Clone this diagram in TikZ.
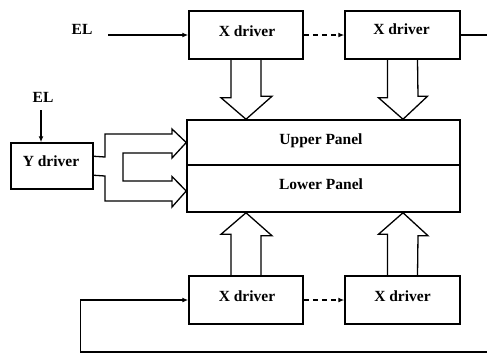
\documentclass[tikz,border=0pt]{standalone}
\usepackage{fontspec}
\setmainfont{Liberation Serif}
\usetikzlibrary{arrows.meta,calc}
\begin{document}
\begin{tikzpicture}[x=1pt,y=-1pt,
  box/.style={draw,line width=1.5pt,inner sep=0pt},
  lbl/.style={inner sep=0pt,anchor=base,font=\fontsize{15.5}{18}\selectfont\bfseries},
  wire/.style={line width=1.3pt},
  tip/.style={wire,-{Latex[length=6pt,width=5pt]}},
  dtip/.style={tip,dash pattern=on 5pt off 4pt},
  hollow/.style={line width=1.3pt,line join=miter}]
\useasboundingbox (0,0) rectangle (487,354);
% boxes
\node[box,minimum width=114pt,minimum height=48pt] (x1) at (246,35) {};
\node[box,minimum width=115pt,minimum height=48pt] (x2) at (402.5,35) {};
\node[box,minimum width=114pt,minimum height=48pt] (x3) at (246,300) {};
\node[box,minimum width=115pt,minimum height=48pt] (x4) at (402.5,300) {};
\node[box,minimum width=273pt,minimum height=45pt] (up) at (323.5,142.5) {};
\node[box,minimum width=273pt,minimum height=47pt] (lo) at (323.5,188.5) {};
\node[box,minimum width=82pt,minimum height=46pt] (yd) at (52,166) {};
% labels
\node[lbl] (tx1) at (247,36) {X driver};
\node[lbl] (tx2) at (401.5,34) {X driver};
\node[lbl] (tx3) at (247,301.5) {X driver};
\node[lbl] (tx4) at (402.5,301.5) {X driver};
\node[lbl] (tup) at (321,144.7) {Upper Panel};
\node[lbl] (tlo) at (321,189) {Lower Panel};
\node[lbl] (ty) at (51,166.7) {Y driver};
\node[lbl] (el1) at (82,34.3) {EL};
\node[lbl] (el2) at (43,102.3) {EL};
% free ends
\coordinate (elin) at (108,35);
\coordinate (elin2) at (41,110);
\coordinate (outR) at (487,35);
\coordinate (fbR) at (487,352);
% EL inputs and chain
\draw[tip] (elin) -- (x1.west);
\draw[tip] (elin2) -- (elin2 |- yd.north);
\draw[dtip] (x1.east) -- (x2.west);
\draw[wire] (x2.east) -- (outR);
\draw[dtip] (x3.east) -- (x4.west);
\draw[tip] (fbR) -- (80.7,352) -- (80.7,300) -- (x3.west);
% hollow arrows from top X drivers
\draw[hollow] ([xshift=-15pt]x1.south) -- ++(0,38) -- ++(-10,0) -- (x1.south |- up.north)
  -- ++(26,-23) -- ++(-11,0) -- ([xshift=15pt]x1.south);
\draw[hollow] ([xshift=-15pt]x2.south) -- ++(0,38) -- ++(-9,0) -- ([xshift=0.5pt]x2.south |- up.north)
  -- ++(24.5,-23) -- ++(-9.5,0) -- ([xshift=15pt]x2.south);
% hollow arrows from bottom X drivers
\draw[hollow] ([xshift=-15pt]x3.north) -- ++(0,-41) -- ++(-10,0) -- (x3.north |- lo.south)
  -- ++(26,23) -- ++(-11,0) -- ([xshift=15pt]x3.north);
\draw[hollow] ([xshift=-15pt]x4.north) -- ++(0,-41) -- ++(-9,0) -- ([xshift=0.5pt]x4.north |- lo.south)
  -- ++(25,23) -- ++(-10,0) -- ([xshift=15pt]x4.north);
% hollow arrows from Y driver to panels
\draw[hollow] ([yshift=-14pt]yd.north east) -- (105,157) -- (105,134) -- (172,134) -- (172,129)
  -- (up.west) -- (172,158) -- (172,153) -- (123,153) -- (123,181) -- (172,181) -- (172,176.5)
  -- ([yshift=-2.5pt]lo.west) -- (172,207) -- (172,201) -- (105,201) -- (105,176)
  -- ([yshift=-33pt]yd.north east);
\end{tikzpicture}
\end{document}
